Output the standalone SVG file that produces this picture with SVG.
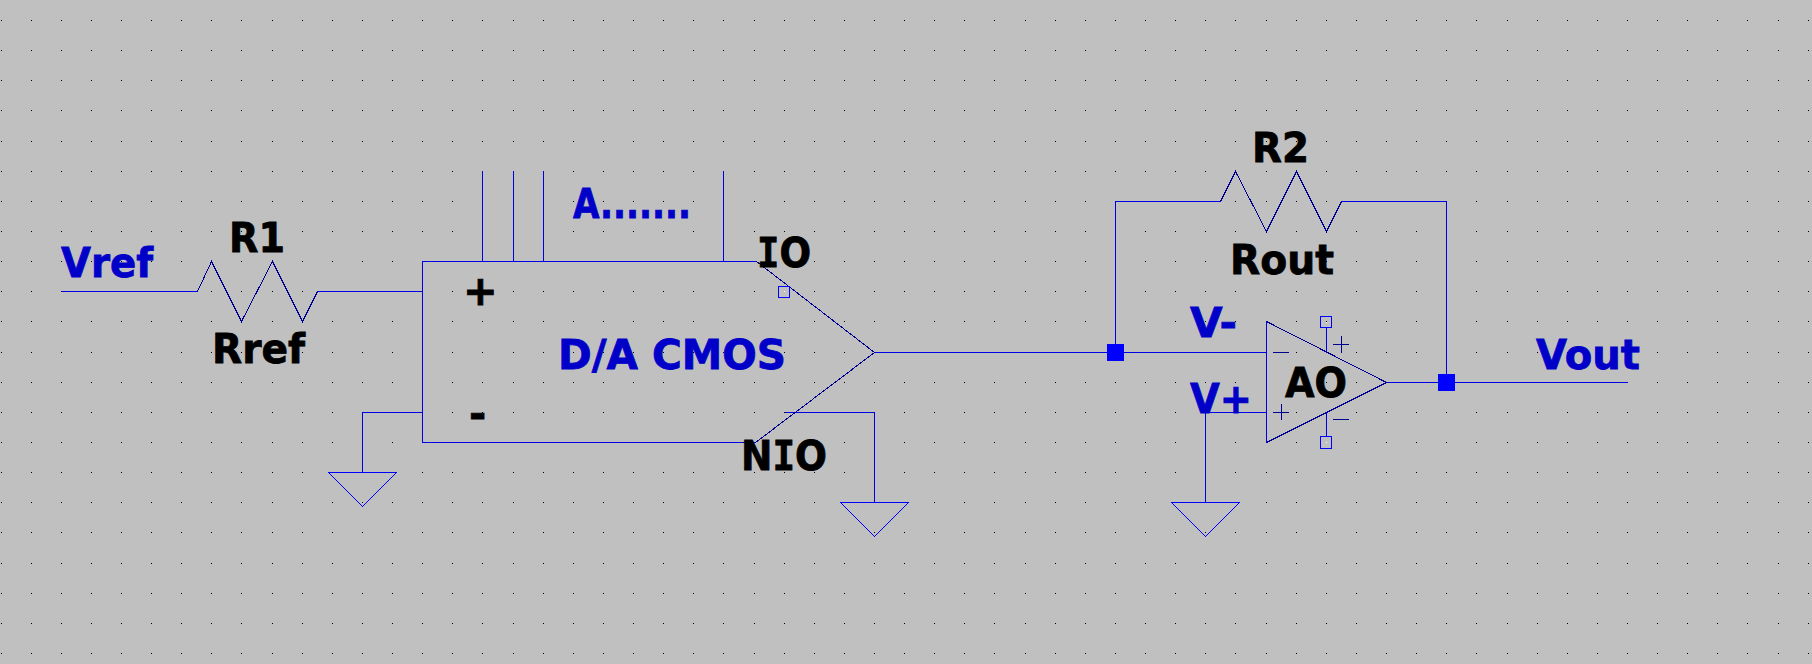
<svg xmlns="http://www.w3.org/2000/svg" width="1812" height="664" viewBox="0 0 1812 664">
<style>
.w{fill:none;stroke:#0000e6;stroke-width:1;shape-rendering:crispEdges}
.s{fill:none;stroke:#000090;stroke-width:1;shape-rendering:crispEdges}
.g{fill:none;stroke:#0000ff;stroke-width:1;shape-rendering:crispEdges}
.p{fill:none;stroke:#0000ff;stroke-width:1;shape-rendering:crispEdges}
.j{fill:#0000ff;shape-rendering:crispEdges}
text{font-family:"DejaVu Sans",sans-serif;font-weight:700;font-size:41.5px;stroke-width:.8px}
.b{fill:#0000c8;stroke:#0000c8}.k{fill:#000;stroke:#000}
.m{font-family:"DejaVu Sans Mono",monospace}
</style>
<defs>
<path id="row" shape-rendering="crispEdges" d="M1 0h1v1h-1zM31 0h1v1h-1zM61 0h1v1h-1zM91 0h1v1h-1zM121 0h1v1h-1zM151 0h1v1h-1zM181 0h1v1h-1zM211 0h1v1h-1zM241 0h1v1h-1zM272 0h1v1h-1zM302 0h1v1h-1zM332 0h1v1h-1zM362 0h1v1h-1zM392 0h1v1h-1zM422 0h1v1h-1zM452 0h1v1h-1zM482 0h1v1h-1zM513 0h1v1h-1zM543 0h1v1h-1zM573 0h1v1h-1zM603 0h1v1h-1zM633 0h1v1h-1zM663 0h1v1h-1zM693 0h1v1h-1zM723 0h1v1h-1zM754 0h1v1h-1zM784 0h1v1h-1zM814 0h1v1h-1zM844 0h1v1h-1zM874 0h1v1h-1zM904 0h1v1h-1zM934 0h1v1h-1zM964 0h1v1h-1zM994 0h1v1h-1zM1025 0h1v1h-1zM1055 0h1v1h-1zM1085 0h1v1h-1zM1115 0h1v1h-1zM1145 0h1v1h-1zM1175 0h1v1h-1zM1205 0h1v1h-1zM1235 0h1v1h-1zM1266 0h1v1h-1zM1296 0h1v1h-1zM1326 0h1v1h-1zM1356 0h1v1h-1zM1386 0h1v1h-1zM1416 0h1v1h-1zM1446 0h1v1h-1zM1476 0h1v1h-1zM1507 0h1v1h-1zM1537 0h1v1h-1zM1567 0h1v1h-1zM1597 0h1v1h-1zM1627 0h1v1h-1zM1657 0h1v1h-1zM1687 0h1v1h-1zM1717 0h1v1h-1zM1747 0h1v1h-1zM1778 0h1v1h-1zM1808 0h1v1h-1z"/>
</defs>
<rect width="1812" height="664" fill="#c0c0c0"/>
<g id="grid" fill="#000">
<use href="#row" y="20"/><use href="#row" y="50"/><use href="#row" y="80"/><use href="#row" y="110"/><use href="#row" y="141"/><use href="#row" y="171"/><use href="#row" y="201"/><use href="#row" y="231"/><use href="#row" y="261"/><use href="#row" y="291"/><use href="#row" y="321"/><use href="#row" y="352"/><use href="#row" y="382"/><use href="#row" y="412"/><use href="#row" y="442"/><use href="#row" y="472"/><use href="#row" y="502"/><use href="#row" y="532"/><use href="#row" y="563"/><use href="#row" y="593"/><use href="#row" y="623"/><use href="#row" y="653"/>
</g>
<g id="connectors">
<path class="w" d="M61.5 291.5H197.5"/>
<path class="w" d="M317.5 291.5H422.5"/>
<path class="w" d="M422.5 412.5H362.5V472.5"/>
<path class="w" d="M482.5 171V261.5M513.5 171V261.5M543.5 171V261.5M723.5 171V261.5"/>
<path class="w" d="M784.5 412.5H874.5V502.5"/>
<path class="w" d="M874.5 352.5H1266.5"/>
<path class="w" d="M1115.5 352.5V201.5H1220.5"/>
<path class="w" d="M1341.5 201.5H1446.5V382.5"/>
<path class="w" d="M1386.5 382.5H1628"/>
<path class="w" d="M1266.5 412.5H1205.5V502.5"/>
<rect class="j" x="1107" y="344" width="17" height="17"/>
<rect class="j" x="1438" y="374" width="17" height="17"/>
</g>
<g id="Vref"><text class="b" x="61" y="277" textLength="92" lengthAdjust="spacingAndGlyphs">Vref</text></g>
<g id="R1">
<path class="s" d="M197.5 291.5L211.5 261.5L241.5 321.5L272.5 261.5L302.5 321.5L317.5 291.5"/>
<text class="k" x="229" y="252" textLength="56" lengthAdjust="spacingAndGlyphs">R1</text>
<text class="k" x="212" y="363" textLength="93" lengthAdjust="spacingAndGlyphs">Rref</text>
</g>
<g id="DAC">
<path class="w" d="M756.5 261.5H422.5V442.5H755.5"/>
<path class="s" d="M756.5 261.5L874.5 352.5L755.5 442.5"/>
<rect class="p" x="778.5" y="286.5" width="11" height="11"/>
<rect x="784" y="291" width="1" height="1" fill="#fff"/>
<text class="k" x="463" y="305">+</text>
<text class="k" x="469" y="428">-</text>
<text class="b" x="573" y="218" textLength="118" lengthAdjust="spacingAndGlyphs">A.......</text>
<text class="b" x="558" y="369" textLength="228" lengthAdjust="spacingAndGlyphs">D/A CMOS</text>
<text class="k" x="757" y="267" textLength="54" lengthAdjust="spacingAndGlyphs"><tspan class="m">I</tspan>O</text>
<text class="k" x="741" y="470" textLength="86" lengthAdjust="spacingAndGlyphs">N<tspan class="m">I</tspan>O</text>
</g>
<g id="GND1"><path class="g" d="M328.5 472.5H396.5L362.5 506.5Z"/></g>
<g id="GND2"><path class="g" d="M840.5 502.5H908.5L874.5 536.5Z"/></g>
<g id="GND3"><path class="g" d="M1171.5 502.5H1239.5L1205.5 536.5Z"/></g>
<g id="R2">
<path class="s" d="M1220.5 201.5L1235.5 171.5L1266.5 231.5L1296.5 171.5L1326.5 231.5L1341.5 201.5"/>
<text class="k" x="1252" y="162" textLength="57" lengthAdjust="spacingAndGlyphs">R2</text>
<text class="k" x="1230" y="274" textLength="104" lengthAdjust="spacingAndGlyphs">Rout</text>
</g>
<g id="AO">
<path class="w" d="M1266.5 321.5V442.5"/>
<path class="s" d="M1266.5 321.5L1386.5 382.5L1266.5 442.5"/>
<path class="w" d="M1326.5 327V352M1326.5 412V436"/>
<path class="s" d="M1273 352.5H1289M1273 412.5H1289M1281.5 404V420M1333 344.5H1349M1341.5 336V353M1333 419.5H1349"/>
<rect class="p" x="1320.5" y="316.5" width="11" height="11"/>
<rect class="p" x="1320.5" y="436.5" width="11" height="12"/>
<rect x="1326" y="322" width="1" height="1" fill="#fff"/>
<rect x="1326" y="442" width="1" height="1" fill="#fff"/>
<text class="k" x="1285" y="397" textLength="62" lengthAdjust="spacingAndGlyphs">AO</text>
</g>
<g id="Vminus"><text class="b" x="1190" y="337" textLength="47" lengthAdjust="spacingAndGlyphs">V-</text></g>
<g id="Vplus"><text class="b" x="1190" y="413" textLength="62" lengthAdjust="spacingAndGlyphs">V+</text></g>
<g id="Vout"><text class="b" x="1536" y="369" textLength="104" lengthAdjust="spacingAndGlyphs">Vout</text></g>
</svg>
